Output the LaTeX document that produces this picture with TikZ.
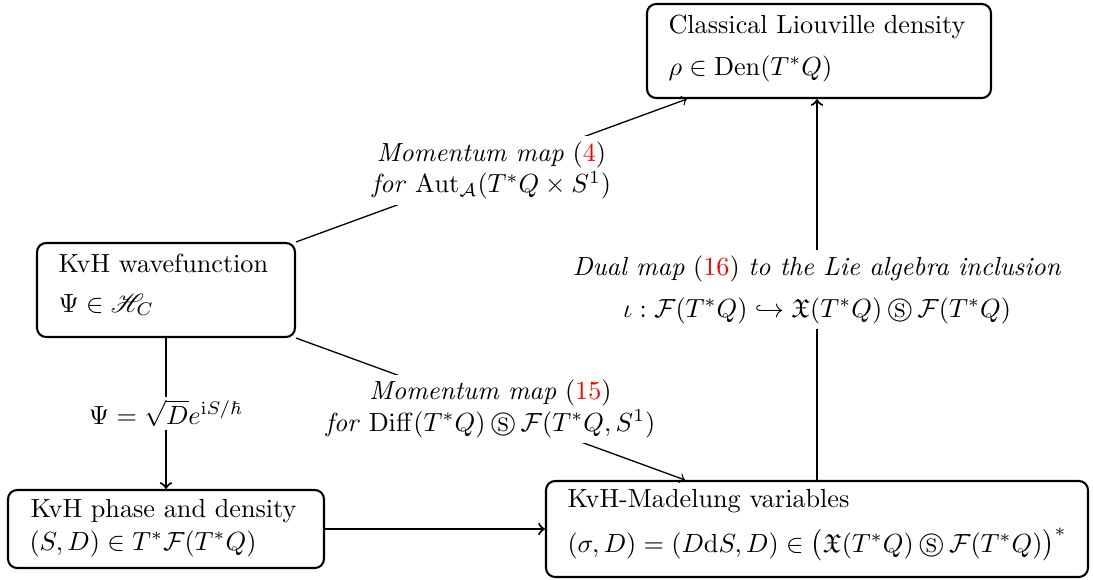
\documentclass[tikz,border=0pt]{standalone}
\usepackage{amsmath,amssymb}
\usepackage{mathrsfs}
\usetikzlibrary{fit}
\newcommand{\semidir}{\mathbin{\circledS}}
\tikzset{
  boxnode/.style={draw, line width=0.8pt, rounded corners=3.5pt, inner sep=0pt},
  txt/.style={anchor=base west, inner sep=0pt},
  conn/.style={line width=0.8pt, ->},
  diag/.style={line width=0.5pt, ->},
  lab/.style={fill=white, align=center, inner sep=2pt},
}
\begin{document}
\begin{tikzpicture}[x=0.3817pt,y=-0.3817pt]
\useasboundingbox (0,0) rectangle (1093,579);
% boxes
\node[boxnode, fit={(647,4) (991,98)}] (cl) {};
\node[boxnode, fit={(37,243) (295,337)}] (wave) {};
\node[boxnode, fit={(8,490) (324,568)}] (phase) {};
\node[boxnode, fit={(546,481) (1088,577)}] (mad) {};
% box texts
\node[txt] (cl1) at (668,33) {Classical Liouville density};
\node[txt] (cl2) at (668,75) {$\rho\in\mathrm{Den}(T^*Q)$};
\node[txt] (wave1) at (58,272) {KvH wavefunction};
\node[txt] (wave2) at (58,312) {$\Psi\in\mathscr{H}_C$};
\node[txt] (phase1) at (30,517) {KvH phase and density};
\node[txt] (phase2) at (29,550) {$(S,D)\in T^*\mathcal{F}(T^*Q)$};
\node[txt] (mad1) at (567,507) {KvH-Madelung variables};
\node[txt] (mad2) at (567,552) {$(\sigma,D)=(D\mathrm{d}S,D)\in\big(\mathfrak{X}(T^*Q)\semidir\mathcal{F}(T^*Q)\big)^*$};
% connectors
\draw[diag] (wave.north east) -- node[lab] (l4) {\textit{Momentum map} (\textcolor{red}{4})\\ \textit{for} $\mathrm{Aut}_{\mathcal{A}}(T^*Q\times S^1)$} ([xshift=41*0.3817pt]cl.south west);
\draw[diag] (wave.south east) -- node[lab] (l15) {\textit{Momentum map} (\textcolor{red}{15})\\ \textit{for} $\mathrm{Diff}(T^*Q)\semidir\mathcal{F}(T^*Q,S^1)$} ([xshift=140*0.3817pt]mad.north west);
\draw[conn] (wave.south) -- node[lab, inner sep=1pt] (lpsi) {$\Psi=\sqrt{D}e^{\mathrm{i}S/\hbar}$} (phase.north);
\draw[conn] (phase.east) -- (mad.west);
\draw[conn] (mad.north) -- node[lab] (l16) {\textit{Dual map} (\textcolor{red}{16}) \textit{to the Lie algebra inclusion}\\[4pt] $\iota:\mathcal{F}(T^*Q)\hookrightarrow\mathfrak{X}(T^*Q)\semidir\mathcal{F}(T^*Q)$} (mad.north |- cl.south);
\end{tikzpicture}
\end{document}
